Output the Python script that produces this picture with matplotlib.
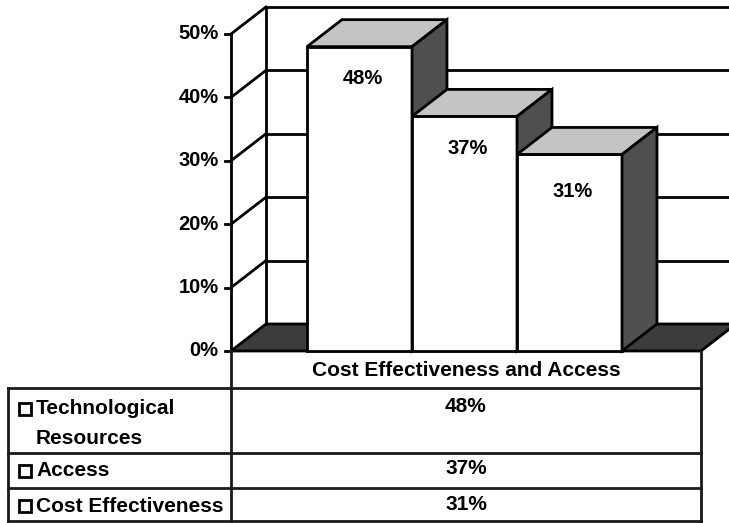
import matplotlib
matplotlib.use("Agg")
import matplotlib.pyplot as plt
from matplotlib.patches import Polygon, Rectangle

# ---- data ----
category = "Cost Effectiveness and Access"
series_labels = ["Technological\nResources", "Access", "Cost Effectiveness"]
values = [48, 37, 31]
yticks = [0, 10, 20, 30, 40, 50]
ytick_labels = ["0%", "10%", "20%", "30%", "40%", "50%"]
value_labels = ["48%", "37%", "31%"]

plt.rcParams['font.family'] = ['Liberation Sans', 'DejaVu Sans']
FS = 15
FSA = 14.5

W, H = 729, 523
fig = plt.figure(figsize=(W / 100, H / 100), dpi=100)
fig.patch.set_facecolor("white")

# main chart axes (full figure, data units: 1 x-unit per bar, y in percent)
ax = fig.add_axes([0, 0, 1, 1])
ax.set_xlim(-3.424, 3.519)
ax.set_ylim(-27.13, 55.36)
ax.axis("off")

LW = 2.0
# front plane extents and 3D depth offset
fx0, fx1 = -1.224, 3.252
ddx, ddy = 0.333, 4.26
ymax = yticks[-1]

# floor
ax.add_patch(Polygon([(fx0, 0), (fx1, 0), (fx1 + ddx, ddy), (fx0 + ddx, ddy)],
                     closed=True, facecolor="#3c3c3c", edgecolor="black", lw=LW, zorder=1))
# back wall + left wall
ax.plot([fx0 + ddx, fx0 + ddx], [ddy, ymax + ddy], color="black", lw=LW, zorder=1)
ax.plot([fx0, fx0], [0, ymax], color="black", lw=LW, zorder=2, solid_capstyle="butt")
for t in yticks[1:]:
    ax.plot([fx0 + ddx, fx1 + ddx], [t + ddy, t + ddy], color="black", lw=LW, zorder=1)
    ax.plot([fx0, fx0 + ddx], [t, t + ddy], color="black", lw=LW, zorder=1)
# ticks and labels
for t, lab in zip(yticks, ytick_labels):
    ax.plot([fx0 - 0.06, fx0], [t, t], color="black", lw=LW, zorder=2)
    ax.text(fx0 - 0.12, t, lab, ha="right", va="center", fontsize=FSA,
            fontweight="bold", zorder=5)

# bars, painted left to right
label_drop = [5, 5, 5.8]
for i, v in enumerate(values):
    z = 3 + i
    ax.bar([i], [v], width=1.0, color="white", edgecolor="black", lw=LW, zorder=z)
    x0, x1 = i - 0.5, i + 0.5
    ax.add_patch(Polygon([(x0, v), (x1, v), (x1 + ddx, v + ddy), (x0 + ddx, v + ddy)],
                         closed=True, facecolor="#c4c4c4", edgecolor="black", lw=LW, zorder=z))
    ax.add_patch(Polygon([(x1, 0), (x1, v), (x1 + ddx, v + ddy), (x1 + ddx, ddy)],
                         closed=True, facecolor="#4f4f4f", edgecolor="black", lw=LW, zorder=z))
    ax.text(i + 0.03, v - label_drop[i], value_labels[i], ha="center", va="center",
            fontsize=FSA, fontweight="bold", zorder=z + 0.5)

# ---- data table (pixel coordinates) ----
tx = fig.add_axes([0, 0, 1, 1])
tx.set_xlim(0, W)
tx.set_ylim(H, 0)
tx.axis("off")
tx.patch.set_alpha(0)

L, C, R = 8, 231, 701
rows = [351, 388, 453, 488, 521]
col = "#1a1a1a"
tx.plot([C, C], [rows[0], rows[-1]], color=col, lw=LW)
tx.plot([R, R], [rows[0], rows[-1]], color=col, lw=LW)
tx.plot([L, L], [rows[1], rows[-1]], color=col, lw=LW)
for r in rows[1:]:
    tx.plot([L, R], [r, r], color=col, lw=LW)
tx.text((C + R) / 2, (rows[0] + rows[1]) / 2 + 1, category, ha="center", va="center",
        fontsize=FS, fontweight="bold")

for k, (lab, vl) in enumerate(zip(series_labels, value_labels)):
    top = rows[k + 1]
    lines = lab.split("\n")
    y0 = top + 21 if k == 0 else top + 18
    for j, ln in enumerate(lines):
        tx.text(36, y0 + 29 * j, ln, ha="left", va="center", fontsize=FS, fontweight="bold")
    tx.add_patch(Rectangle((19, y0 - 6), 12, 12, facecolor="white", edgecolor="black", lw=2.0))
    tx.text((C + R) / 2, y0 - 2, vl, ha="center", va="center", fontsize=FS, fontweight="bold")

fig.savefig("out.png", dpi=100)
